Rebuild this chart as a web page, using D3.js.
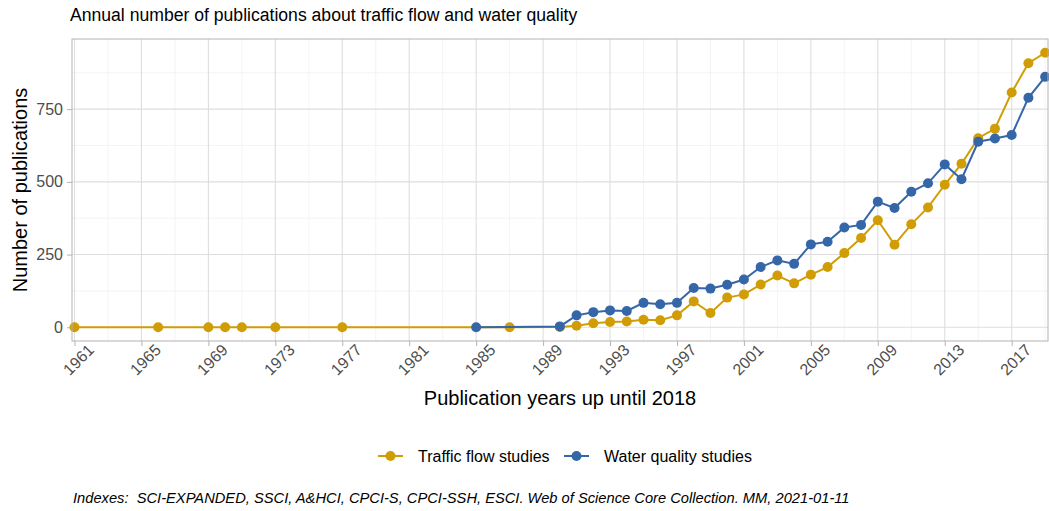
<!DOCTYPE html>
<html>
<head>
<meta charset="utf-8">
<script src="https://cdn.jsdelivr.net/npm/d3@7"></script>
<style>
  body { margin: 0; background: #fff; }
  text { font-family: "Liberation Sans", Arial, sans-serif; }
</style>
</head>
<body>
<script>
// data
let trafficYears = [1961, 1966, 1969, 1970, 1971, 1973, 1977, 1987, 1990, 1991, 1992, 1993, 1994, 1995, 1996, 1997, 1998, 1999,
    2000, 2001, 2002, 2003, 2004, 2005, 2006, 2007, 2008, 2009, 2010, 2011, 2012, 2013, 2014, 2015, 2016, 2017, 2018, 2019];
let trafficCounts = [0, 0, 0, 0, 0, 0, 0, 0, 1, 5, 14, 18, 20, 26, 24, 41, 89, 49,
    102, 113, 147, 178, 151, 181, 207, 255, 307, 368, 284, 354, 412, 490, 562, 650, 683, 807, 908, 944];

let waterYears = [1985, 1990, 1991, 1992, 1993, 1994, 1995, 1996, 1997, 1998, 1999,
    2000, 2001, 2002, 2003, 2004, 2005, 2006, 2007, 2008, 2009, 2010, 2011, 2012, 2013, 2014, 2015, 2016, 2017, 2018, 2019];
let waterCounts = [0, 3, 41, 52, 58, 56, 84, 79, 84, 135, 133,
    146, 164, 207, 230, 218, 285, 294, 343, 352, 432, 410, 466, 495, 560, 509, 638, 649, 661, 789, 861];

let xTicks = d3.range(1961, 2018, 4);
let yTicks = [0, 250, 500, 750];
let yMinor = [125, 375, 625, 875];
let seriesNames = ["Traffic flow studies", "Water quality studies"];
let couleurs = ["#D19D06", "#3566A8"];

let width = 1049;
let height = 511;
let panel = { left: 72, right: 1048, top: 39, bottom: 341 };

let svg = d3.select("body").append("svg")
    .attr("width", width)
    .attr("height", height);

let x = d3.scaleLinear().domain([1960.85, 2019.17]).range([panel.left, panel.right]);
let y = d3.scaleLinear().domain([-47.2, 991.2]).range([panel.bottom, panel.top]);

let xMinor = xTicks.map(d => d + 2).filter(d => d < 2019.17);

// grille
let grille = svg.append("g");
grille.selectAll(".ymin").data(yMinor).enter().append("line")
    .attr("x1", panel.left).attr("x2", panel.right)
    .attr("y1", d => y(d)).attr("y2", d => y(d))
    .attr("stroke", "#ececec").attr("stroke-width", 0.6);
grille.selectAll(".xmin").data(xMinor).enter().append("line")
    .attr("y1", panel.top).attr("y2", panel.bottom)
    .attr("x1", d => x(d)).attr("x2", d => x(d))
    .attr("stroke", "#ececec").attr("stroke-width", 0.6);
grille.selectAll(".ymaj").data(yTicks).enter().append("line")
    .attr("x1", panel.left).attr("x2", panel.right)
    .attr("y1", d => y(d)).attr("y2", d => y(d))
    .attr("stroke", "#dedede").attr("stroke-width", 1.1);
grille.selectAll(".xmaj").data(xTicks).enter().append("line")
    .attr("y1", panel.top).attr("y2", panel.bottom)
    .attr("x1", d => x(d)).attr("x2", d => x(d))
    .attr("stroke", "#dedede").attr("stroke-width", 1.1);

// axes
let axeY = svg.append("g")
    .attr("transform", "translate(" + panel.left + ",0)")
    .call(d3.axisLeft(y).tickValues(yTicks).tickSize(5).tickPadding(4));
let axeX = svg.append("g")
    .attr("transform", "translate(0," + panel.bottom + ")")
    .call(d3.axisBottom(x).tickValues(xTicks).tickFormat(d3.format("d")).tickSize(5));

[axeY, axeX].forEach(function(a) {
    a.select(".domain").remove();
    a.selectAll("line").attr("stroke", "#b3b3b3").attr("stroke-width", 1);
    a.selectAll("text").attr("fill", "#4d4d4d").style("font-size", "16px")
        .style("font-family", "'Liberation Sans', Arial, sans-serif");
});
axeX.selectAll("text")
    .attr("text-anchor", "end")
    .attr("dy", null)
    .attr("y", 0)
    .attr("transform", "translate(20,10) rotate(-45)");

// lignes et points
let series = [
    trafficYears.map((d, i) => ({ year: d, n: trafficCounts[i] })),
    waterYears.map((d, i) => ({ year: d, n: waterCounts[i] }))
];
let ligne = d3.line().x(d => x(d.year)).y(d => y(d.n));

series.forEach(function(s, k) {
    let g = svg.append("g");
    g.append("path")
        .datum(s)
        .attr("d", ligne)
        .attr("fill", "none")
        .attr("stroke", couleurs[k])
        .attr("stroke-width", 2);
    g.selectAll("circle").data(s).enter().append("circle")
        .attr("cx", d => x(d.year))
        .attr("cy", d => y(d.n))
        .attr("r", 5)
        .attr("fill", couleurs[k]);
});

// cadre du panneau
svg.append("rect")
    .attr("x", panel.left).attr("y", panel.top)
    .attr("width", panel.right - panel.left)
    .attr("height", panel.bottom - panel.top)
    .attr("fill", "none")
    .attr("stroke", "#b3b3b3")
    .attr("stroke-width", 1);

// titres
svg.append("text")
    .attr("x", 70).attr("y", 21)
    .style("font-size", "17.6px")
    .attr("fill", "#000")
    .text("Annual number of publications about traffic flow and water quality");

svg.append("text")
    .attr("transform", "translate(27," + ((panel.top + panel.bottom) / 2) + ") rotate(-90)")
    .attr("text-anchor", "middle")
    .style("font-size", "20px")
    .text("Number of publications");

svg.append("text")
    .attr("x", (panel.left + panel.right) / 2).attr("y", 405)
    .attr("text-anchor", "middle")
    .style("font-size", "20px")
    .text("Publication years up until 2018");

// legende
let legendeX = [378, 564];
let legende = svg.append("g");
seriesNames.forEach(function(nom, k) {
    let lx = legendeX[k];
    legende.append("line")
        .attr("x1", lx).attr("x2", lx + 25)
        .attr("y1", 456).attr("y2", 456)
        .attr("stroke", couleurs[k]).attr("stroke-width", 2);
    legende.append("circle")
        .attr("cx", lx + 12.5).attr("cy", 456).attr("r", 5)
        .attr("fill", couleurs[k]);
    legende.append("text")
        .attr("x", lx + 40).attr("y", 461.5)
        .style("font-size", "16px")
        .text(nom);
});

svg.append("text")
    .attr("x", 73).attr("y", 503)
    .style("font-size", "14.7px")
    .style("font-style", "italic")
    .text("Indexes:  SCI-EXPANDED, SSCI, A&HCI, CPCI-S, CPCI-SSH, ESCI. Web of Science Core Collection. MM, 2021-01-11")
    .attr("xml:space", "preserve")
    .style("white-space", "pre");
</script>
</body>
</html>
